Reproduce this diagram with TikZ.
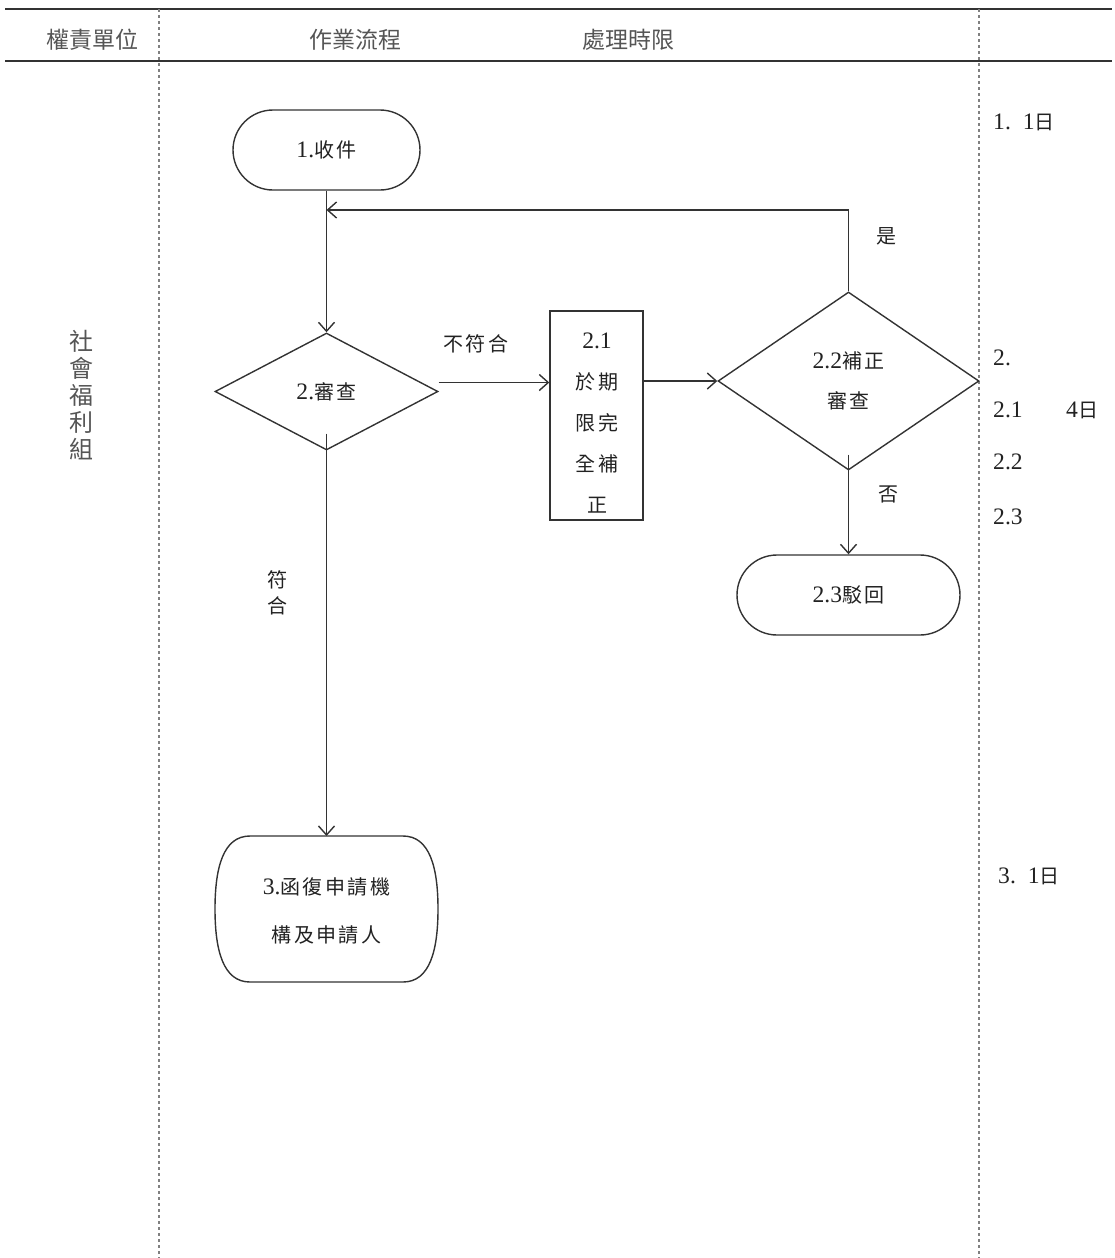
\documentclass[tikz,border=0pt]{standalone}
\usepackage{fontspec}
\setmainfont[LetterSpace=12]{Noto Sans CJK TC}
\newfontfamily\num[Scale=1.18]{Liberation Serif}
\newfontfamily\hdr{Noto Sans CJK TC}
\usetikzlibrary{shapes.geometric,arrows.meta}
\definecolor{txt}{HTML}{222222}
\definecolor{ln}{HTML}{333333}
\definecolor{hd}{HTML}{555555}
\definecolor{dsh}{HTML}{808080}
\begin{document}
\begin{tikzpicture}[x=1pt,y=-1pt,
  every node/.style={inner sep=0pt, text=txt},
  f/.style={font=\fontsize{20}{24}\selectfont},
  hfont/.style={font=\hdr\fontsize{23}{26}\selectfont, text=hd},
  term/.style={f, draw=ln, line width=1.4pt, rectangle, rounded corners=40pt, minimum width=187pt, minimum height=80pt},
  dia/.style={f, draw=ln, line width=1.4pt, diamond, align=center},
  box/.style={draw=ln, line width=1.4pt, rectangle},
  arr/.style={draw=ln, line width=1.4pt, -{Straight Barb[length=9pt,width=16pt,line width=1.4pt]}},
  plain/.style={draw=ln, line width=1.4pt},
  hline/.style={draw=ln, line width=2.5pt},
  vdash/.style={draw=dsh, line width=1.6pt, dash pattern=on 3pt off 3pt},
  side/.style={f, anchor=west}
]
\useasboundingbox (0,0) rectangle (1115,1258);
% header
\draw[hline] (5,9) -- (1112,9);
\draw[hline] (5,61) -- (1112,61);
\draw[vdash] (159,9) -- (159,1258);
\draw[vdash] (979,9) -- (979,1258);
\node[hfont] (h1) at (92,40) {權責單位};
\node[hfont] (h2) at (355,40) {作業流程};
\node[hfont] (h3) at (628,40) {處理時限};
\node[hfont, text=hd, align=center, font=\hdr\fontsize{24}{27}\selectfont] (unit) at (81,395) {社\\會\\福\\利\\組};
% flow nodes
\node[term] (n1) at (326.5,150) {{\num 1.}收件};
\node[dia, minimum width=223pt, minimum height=117pt] (n2) at (326.5,391.5) {{\num 2.}審查};
\node[box, minimum width=93pt, minimum height=209pt] (n21) at (596.5,415.5) {};
\node[f, align=center, font=\fontsize{20}{41}\selectfont] (n21t) at (597,423) {{\num 2.1}\\於期\\限完\\全補\\正};
\node[dia, minimum width=261pt, minimum height=178pt, font=\fontsize{20}{40}\selectfont] (n22) at (848.5,381) {{\num 2.2}補正\\審查};
\node[term, minimum width=223pt] (n23) at (848.5,595) {{\num 2.3}駁回};
\node[f, align=center, minimum width=223pt, minimum height=146pt, font=\fontsize{20}{48}\selectfont] (n3) at (326.5,911) {{\num 3.}函復申請機\\構及申請人};
\draw[plain] (250,836) -- (403,836) .. controls (430,836) and (438,868) .. (438,909)
  .. controls (438,950) and (430,982) .. (403,982) -- (250,982)
  .. controls (223,982) and (215,950) .. (215,909)
  .. controls (215,868) and (223,836) .. (250,836);
% connectors
\coordinate (j) at (326.5,210);
\coordinate (n3top) at (326.5,836);
\draw[arr] (n1.south) -- (n2.north);
\draw[arr] (n22.north) |- (j);
\draw[arr] ([yshift=9pt]n2.east) -- ([yshift=9pt]n2.east -| n21.west);
\draw[arr] (n21.east |- n22.west) -- (n22.west);
\draw[arr] ([yshift=16pt]n22.south) -- (n23.north);
\draw[arr] ([yshift=17pt]n2.south) -- (n3top);
% labels
\node[f] (l1) at (476,344) {不符合};
\node[f] (l2) at (886,236) {是};
\node[f] (l3) at (888,494) {否};
\node[f, align=center, font=\fontsize{20}{26}\selectfont] (l4) at (277,593) {符\\合};
% time column
\node[side] (t1) at (993,122) {{\num 1.\hspace{12pt}1}日};
\node[side] (t2) at (993,358) {{\num 2.}};
\node[side] (t3) at (993,410) {{\num 2.1}};
\node[side] (t3b) at (1066,410) {{\num 4}日};
\node[side] (t4) at (993,462) {{\num 2.2}};
\node[side] (t5) at (993,517) {{\num 2.3}};
\node[side] (t6) at (998,876) {{\num 3.\hspace{12pt}1}日};
\end{tikzpicture}
\end{document}
